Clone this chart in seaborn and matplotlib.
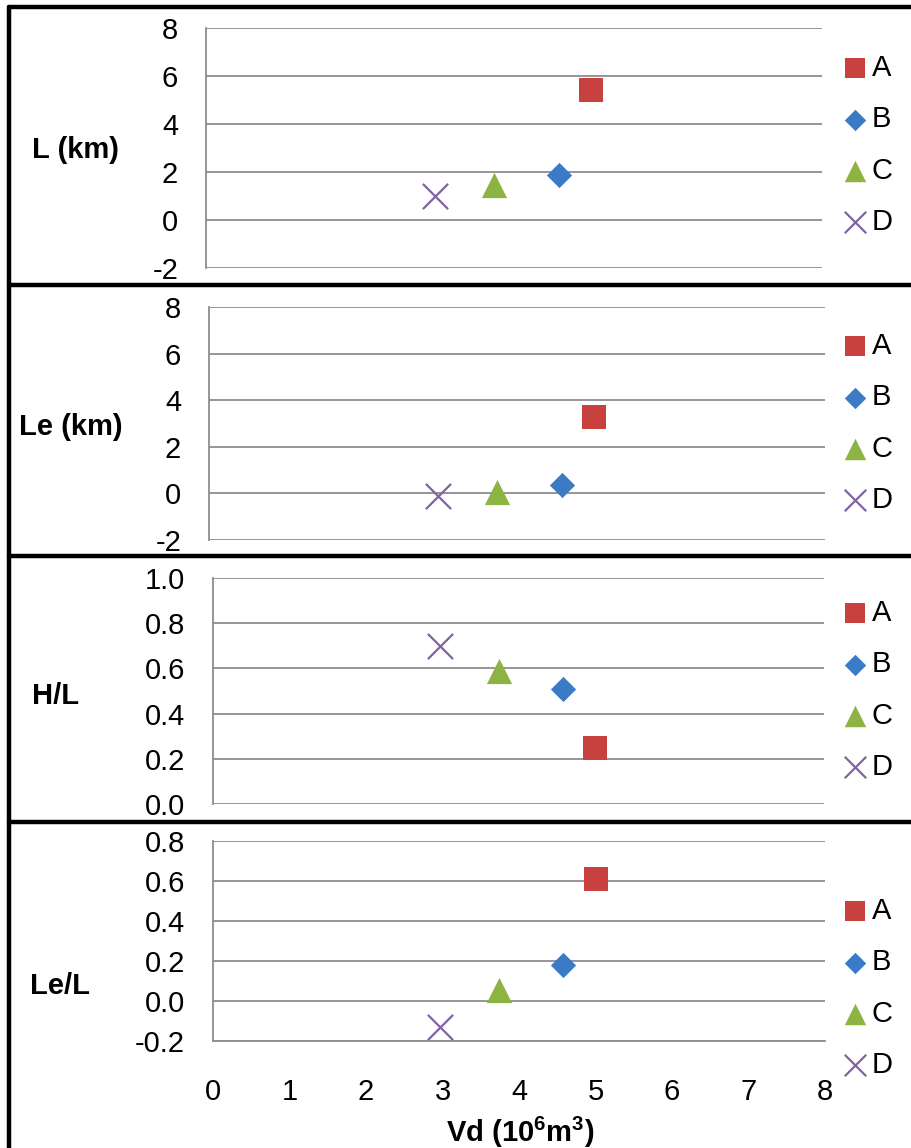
import matplotlib
matplotlib.use("Agg")
import matplotlib.pyplot as plt
from matplotlib.lines import Line2D
import numpy as np
import pandas as pd
import seaborn as sns

# data
groups = ["A", "B", "C", "D"]
vd = [5.0, 4.58, 3.74, 2.97]
L_km = [5.42, 1.88, 1.45, 1.0]
Le_km = [3.28, 0.35, 0.05, -0.1]
H_over_L = [0.25, 0.51, 0.59, 0.70]
Le_over_L = [0.61, 0.18, 0.055, -0.13]

y_names = ["L (km)", "Le (km)", "H/L", "Le/L"]
y_limits = [(-2, 8), (-2, 8), (0.0, 1.0), (-0.2, 0.8)]
y_steps = [2, 2, 0.2, 0.2]
x_ticks = [0, 1, 2, 3, 4, 5, 6, 7, 8]
x_label = r"Vd (10$^{\mathbf{6}}$m$^{\mathbf{3}}$)"

df = pd.DataFrame({"Group": groups, "Vd": vd, "L (km)": L_km,
                   "Le (km)": Le_km, "H/L": H_over_L, "Le/L": Le_over_L})

colors = {"A": "#C8413E", "B": "#3B7BC6", "C": "#8DB443", "D": "#8064A2"}
markers = {"A": "s", "B": "D", "C": "^", "D": "x"}
sizes = {"A": 300, "B": 165, "C": 330, "D": 330}

sns.set_style("white")
plt.rcParams["font.family"] = ["Liberation Sans", "DejaVu Sans"]
plt.rcParams["mathtext.fontset"] = "custom"
plt.rcParams["mathtext.rm"] = "Liberation Sans"
plt.rcParams["mathtext.bf"] = "Liberation Sans:bold"
plt.rcParams["text.color"] = "black"
plt.rcParams["xtick.color"] = "black"
plt.rcParams["ytick.color"] = "black"

W, H = 911, 1148
fig = plt.figure(figsize=(W / 100, H / 100), dpi=100)
fs = 21
grid_col = "#8E8E8E"

# panel boxes in pixels: left, right, top, bottom
panel_px = [(206, 822, 28, 268), (209, 825, 307, 540),
            (213, 824, 578, 804), (213, 825, 841, 1041)]
ylabel_px = [(32, 150), (19, 427), (32, 696), (30, 986)]
legend_y_px = [145, 423, 690, 988]

for i, name in enumerate(y_names):
    l, r, t, b = panel_px[i]
    ax = fig.add_axes([l / W, 1 - b / H, (r - l) / W, (b - t) / H])
    for g in groups:
        sub = df[df["Group"] == g]
        if markers[g] == "x":
            sns.scatterplot(data=sub, x="Vd", y=name, marker="x", color=colors[g],
                            s=sizes[g], linewidth=1.6, label=g, ax=ax)
        else:
            sns.scatterplot(data=sub, x="Vd", y=name, marker=markers[g], color=colors[g],
                            s=sizes[g], linewidth=0, label=g, ax=ax)

    lo, hi = y_limits[i]
    ax.set_ylim(lo, hi)
    ax.set_xlim(0, 8)
    yt = np.round(np.arange(lo, hi + y_steps[i] / 2, y_steps[i]), 2)
    ax.set_yticks(yt)
    if y_steps[i] < 1:
        ax.set_yticklabels([f"{v:.1f}" for v in yt])
    else:
        ax.set_yticklabels([f"{v:g}" for v in yt])
    ax.yaxis.grid(True, color=grid_col, linewidth=1.3)
    ax.xaxis.grid(False)
    for s in ["top", "right", "bottom"]:
        ax.spines[s].set_visible(False)
    ax.spines["left"].set_color(grid_col)
    ax.spines["left"].set_linewidth(1.3)
    ax.tick_params(axis="y", length=0, pad=20, labelsize=fs)
    ax.set_ylabel("")
    ax.set_xlabel("")

    if i == 3:
        ax.spines["bottom"].set_visible(True)
        ax.spines["bottom"].set_color(grid_col)
        ax.spines["bottom"].set_linewidth(1.3)
        ax.set_xticks(x_ticks)
        ax.tick_params(axis="x", length=7, width=1.3, color=grid_col,
                       direction="out", pad=20, labelsize=fs)
    else:
        ax.set_xticks([])

    fig.text(ylabel_px[i][0] / W, 1 - ylabel_px[i][1] / H, name, fontsize=fs,
             fontweight="bold", ha="left", va="center")

    ax.legend(loc="center left", bbox_to_anchor=(842 / W, 1 - legend_y_px[i] / H),
              bbox_transform=fig.transFigure, frameon=False, fontsize=fs,
              markerscale=0.85, handlelength=0.9, handletextpad=0.12,
              labelspacing=0.8, borderpad=0, borderaxespad=0)

fig.text(520 / W, 1 - 1132 / H, x_label, fontsize=fs, fontweight="bold",
         ha="center", va="center")

# black frames around the panels
lw = 3.2
for y in [7, 285, 556, 822]:
    fig.add_artist(Line2D([9 / W, 1.0], [1 - y / H, 1 - y / H], color="black",
                          linewidth=lw, transform=fig.transFigure))
fig.add_artist(Line2D([9 / W, 9 / W], [1 - 7 / H, 0.0], color="black",
                      linewidth=lw, transform=fig.transFigure))

fig.savefig("out.png", dpi=100)
